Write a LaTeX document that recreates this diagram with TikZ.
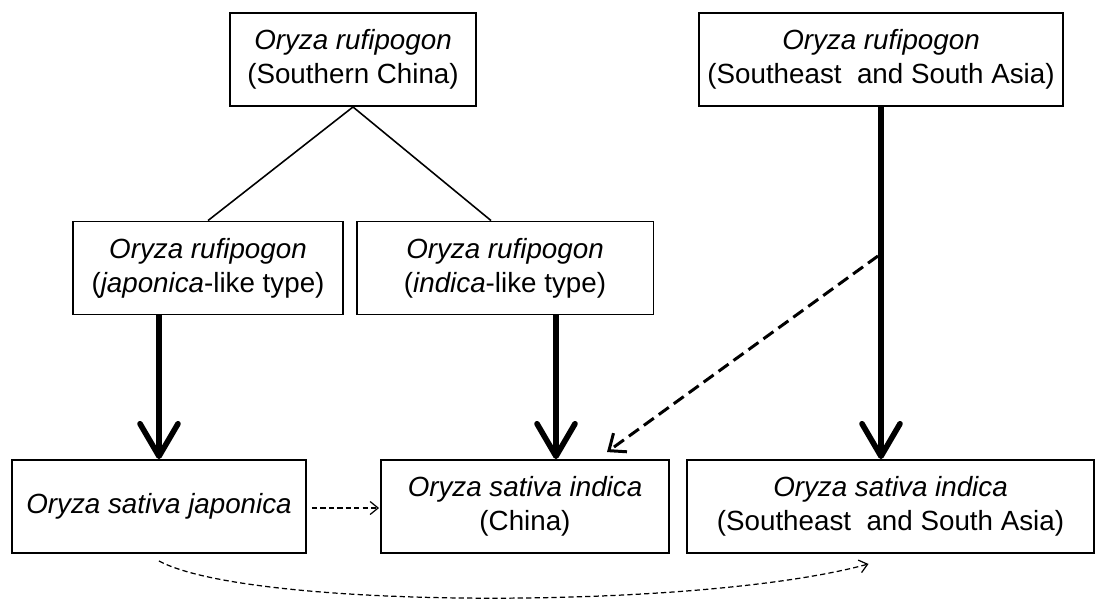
\documentclass[tikz,border=0pt]{standalone}
\usepackage{fontspec}
\setmainfont{Liberation Sans}
\usetikzlibrary{arrows.meta,calc}

\tikzset{
  taxon/.style={draw, line width=1.1pt, align=center, inner sep=0pt,
    minimum height=1.86cm, font=\fontsize{15.8}{19.4}\selectfont},
  split/.style={line width=0.9pt},
  descent/.style={line width=3.2pt, -{Straight Barb[length=6.5mm,width=7.6mm,round]}},
  flow/.style={line width=1.7pt, dash pattern=on 7pt off 3.5pt,
    -{Straight Barb[length=2.8mm,width=4.6mm]}},
  gene/.style={line width=0.7pt, dash pattern=on 3pt off 1.8pt,
    -{Straight Barb[length=1.6mm,width=2.6mm]}}
}

\begin{document}
\begin{tikzpicture}[x=0.02cm, y=-0.02cm]
    \useasboundingbox (0,0) rectangle (1095,600);

    % Wild populations
    \node[taxon, minimum width=4.92cm] (rufiChina) at (353,59.5)
        {\textit{Oryza rufipogon}\\(Southern China)};
    \node[taxon, minimum width=7.28cm] (rufiAsia) at (881,59.5)
        {\textit{Oryza rufipogon}\\(Southeast~~and South Asia)};
    \node[taxon, minimum width=5.4cm] (rufiJap) at (208,268)
        {\textit{Oryza rufipogon}\\(\textit{japonica}-like type)};
    \node[taxon, minimum width=5.94cm] (rufiInd) at (505,268)
        {\textit{Oryza rufipogon}\\(\textit{indica}-like type)};

    % Cultivated rice
    \node[taxon, minimum width=5.88cm] (satJap) at (159,506.5)
        {\textit{Oryza sativa japonica}};
    \node[taxon, minimum width=5.76cm] (satIndChina) at (525,506.5)
        {\textit{Oryza sativa indica}\\(China)};
    \node[taxon, minimum width=8.14cm] (satIndAsia) at (890.5,506.5)
        {\textit{Oryza sativa indica}\\(Southeast~~and South Asia)};

    % Split in Southern China
    \draw[split] (rufiChina.south) -- (rufiJap.north);
    \draw[split] (rufiChina.south) -- ($(rufiInd.north)+(-14,0)$);

    % Domestication
    \draw[descent] (rufiJap.south -| satJap.north) -- (satJap.north);
    \draw[descent] ($(rufiInd.south)+(51,0)$) -- ($(satIndChina.north)+(31,0)$);
    \draw[descent] (rufiAsia.south) -- (rufiAsia.south |- satIndAsia.north);

    % Introgression
    \coordinate (branch) at ($(rufiAsia.south)+(-3,149)$);
    \draw[flow] (branch) -- ($(satIndChina.north)+(82,-7)$);
    \draw[gene] (satJap.east) ++(5,1.5) coordinate (jOut)
        (jOut) -- ($(satIndChina.west)+(-1,1.5)$);
    \draw[gene] ($(satJap.south)+(0,7)$) .. controls (250,610) and (700,610)
        .. ($(satIndAsia.south)+(-22,10)$);
\end{tikzpicture}
\end{document}
